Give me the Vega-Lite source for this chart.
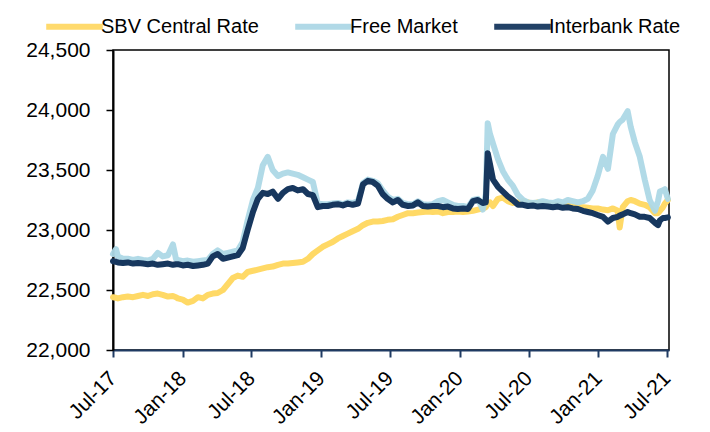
{
  "$schema": "https://vega.github.io/schema/vega-lite/v6.json",
  "width": 556,
  "height": 300,
  "autosize": {"type": "none"},
  "padding": {"left": 113, "top": 50, "right": 41, "bottom": 82},
  "background": "white",
  "config": {
    "view": {"stroke": "#000000", "strokeWidth": 1.5},
    "font": "Liberation Sans",
    "axis": {"labelFont": "Liberation Sans", "labelColor": "#000000", "grid": false, "title": null}
  },
  "data": {
    "values": [
      {"date": "2017-07-01", "sbv": 22440, "free": 22800, "interbank": 22740},
      {"date": "2017-07-09", "sbv": 22435, "free": 22840, "interbank": 22735},
      {"date": "2017-07-14", "sbv": 22430, "free": 22780, "interbank": 22730},
      {"date": "2017-07-27", "sbv": 22440, "free": 22760, "interbank": 22725},
      {"date": "2017-08-09", "sbv": 22445, "free": 22760, "interbank": 22730},
      {"date": "2017-08-23", "sbv": 22440, "free": 22750, "interbank": 22720},
      {"date": "2017-09-05", "sbv": 22450, "free": 22760, "interbank": 22725},
      {"date": "2017-09-18", "sbv": 22460, "free": 22750, "interbank": 22720},
      {"date": "2017-10-01", "sbv": 22450, "free": 22745, "interbank": 22715},
      {"date": "2017-10-14", "sbv": 22465, "free": 22760, "interbank": 22720},
      {"date": "2017-10-27", "sbv": 22470, "free": 22810, "interbank": 22710},
      {"date": "2017-11-09", "sbv": 22460, "free": 22780, "interbank": 22715},
      {"date": "2017-11-23", "sbv": 22445, "free": 22790, "interbank": 22720},
      {"date": "2017-12-06", "sbv": 22450, "free": 22880, "interbank": 22710},
      {"date": "2017-12-14", "sbv": 22440, "free": 22760, "interbank": 22715},
      {"date": "2017-12-19", "sbv": 22430, "free": 22750, "interbank": 22715},
      {"date": "2018-01-01", "sbv": 22420, "free": 22740, "interbank": 22705},
      {"date": "2018-01-14", "sbv": 22395, "free": 22745, "interbank": 22710},
      {"date": "2018-01-28", "sbv": 22410, "free": 22735, "interbank": 22700},
      {"date": "2018-02-10", "sbv": 22440, "free": 22740, "interbank": 22705},
      {"date": "2018-02-23", "sbv": 22430, "free": 22745, "interbank": 22710},
      {"date": "2018-03-08", "sbv": 22460, "free": 22750, "interbank": 22720},
      {"date": "2018-03-21", "sbv": 22470, "free": 22800, "interbank": 22780},
      {"date": "2018-04-03", "sbv": 22475, "free": 22830, "interbank": 22800},
      {"date": "2018-04-17", "sbv": 22500, "free": 22800, "interbank": 22760},
      {"date": "2018-04-30", "sbv": 22550, "free": 22810, "interbank": 22770},
      {"date": "2018-05-13", "sbv": 22600, "free": 22820, "interbank": 22780},
      {"date": "2018-05-26", "sbv": 22620, "free": 22830, "interbank": 22790},
      {"date": "2018-06-08", "sbv": 22610, "free": 22900, "interbank": 22850},
      {"date": "2018-06-21", "sbv": 22650, "free": 23080, "interbank": 23000},
      {"date": "2018-07-05", "sbv": 22660, "free": 23250, "interbank": 23150},
      {"date": "2018-07-18", "sbv": 22670, "free": 23350, "interbank": 23260},
      {"date": "2018-07-31", "sbv": 22680, "free": 23540, "interbank": 23310},
      {"date": "2018-08-13", "sbv": 22690, "free": 23610, "interbank": 23300},
      {"date": "2018-08-26", "sbv": 22695, "free": 23500, "interbank": 23320},
      {"date": "2018-09-09", "sbv": 22710, "free": 23450, "interbank": 23260},
      {"date": "2018-09-22", "sbv": 22720, "free": 23470, "interbank": 23310},
      {"date": "2018-10-05", "sbv": 22720, "free": 23480, "interbank": 23340},
      {"date": "2018-10-18", "sbv": 22725, "free": 23470, "interbank": 23350},
      {"date": "2018-10-31", "sbv": 22730, "free": 23460, "interbank": 23330},
      {"date": "2018-11-14", "sbv": 22735, "free": 23440, "interbank": 23340},
      {"date": "2018-11-27", "sbv": 22760, "free": 23420, "interbank": 23300},
      {"date": "2018-12-10", "sbv": 22800, "free": 23400, "interbank": 23290},
      {"date": "2018-12-23", "sbv": 22830, "free": 23220, "interbank": 23190},
      {"date": "2019-01-05", "sbv": 22860, "free": 23215, "interbank": 23200},
      {"date": "2019-01-18", "sbv": 22880, "free": 23215, "interbank": 23200},
      {"date": "2019-01-31", "sbv": 22900, "free": 23220, "interbank": 23210},
      {"date": "2019-02-14", "sbv": 22930, "free": 23225, "interbank": 23215},
      {"date": "2019-02-27", "sbv": 22950, "free": 23215, "interbank": 23205},
      {"date": "2019-03-12", "sbv": 22970, "free": 23230, "interbank": 23220},
      {"date": "2019-03-25", "sbv": 22990, "free": 23225, "interbank": 23210},
      {"date": "2019-04-08", "sbv": 23010, "free": 23240, "interbank": 23220},
      {"date": "2019-04-21", "sbv": 23040, "free": 23390, "interbank": 23380},
      {"date": "2019-05-04", "sbv": 23060, "free": 23420, "interbank": 23410},
      {"date": "2019-05-17", "sbv": 23070, "free": 23410, "interbank": 23400},
      {"date": "2019-05-30", "sbv": 23070, "free": 23390, "interbank": 23370},
      {"date": "2019-06-12", "sbv": 23075, "free": 23330, "interbank": 23300},
      {"date": "2019-06-25", "sbv": 23085, "free": 23280, "interbank": 23260},
      {"date": "2019-07-09", "sbv": 23090, "free": 23250, "interbank": 23230},
      {"date": "2019-07-22", "sbv": 23110, "free": 23260, "interbank": 23250},
      {"date": "2019-08-04", "sbv": 23125, "free": 23225, "interbank": 23210},
      {"date": "2019-08-18", "sbv": 23140, "free": 23215, "interbank": 23200},
      {"date": "2019-08-31", "sbv": 23140, "free": 23215, "interbank": 23205},
      {"date": "2019-09-13", "sbv": 23145, "free": 23240, "interbank": 23230},
      {"date": "2019-09-26", "sbv": 23150, "free": 23215, "interbank": 23200},
      {"date": "2019-10-09", "sbv": 23155, "free": 23210, "interbank": 23195},
      {"date": "2019-10-22", "sbv": 23150, "free": 23215, "interbank": 23200},
      {"date": "2019-11-05", "sbv": 23155, "free": 23240, "interbank": 23200},
      {"date": "2019-11-18", "sbv": 23140, "free": 23250, "interbank": 23190},
      {"date": "2019-12-01", "sbv": 23150, "free": 23230, "interbank": 23195},
      {"date": "2019-12-14", "sbv": 23150, "free": 23210, "interbank": 23180},
      {"date": "2019-12-27", "sbv": 23155, "free": 23200, "interbank": 23175},
      {"date": "2020-01-10", "sbv": 23150, "free": 23200, "interbank": 23180},
      {"date": "2020-01-23", "sbv": 23155, "free": 23190, "interbank": 23175},
      {"date": "2020-02-05", "sbv": 23160, "free": 23250, "interbank": 23240},
      {"date": "2020-02-18", "sbv": 23170, "free": 23260, "interbank": 23250},
      {"date": "2020-03-02", "sbv": 23180, "free": 23170, "interbank": 23225},
      {"date": "2020-03-10", "sbv": 23190, "free": 23300, "interbank": 23230},
      {"date": "2020-03-15", "sbv": 23220, "free": 23890, "interbank": 23640},
      {"date": "2020-03-21", "sbv": 23230, "free": 23800, "interbank": 23550},
      {"date": "2020-03-29", "sbv": 23200, "free": 23720, "interbank": 23420},
      {"date": "2020-04-11", "sbv": 23260, "free": 23590, "interbank": 23360},
      {"date": "2020-04-24", "sbv": 23270, "free": 23490, "interbank": 23320},
      {"date": "2020-05-07", "sbv": 23240, "free": 23420, "interbank": 23280},
      {"date": "2020-05-20", "sbv": 23225, "free": 23370, "interbank": 23250},
      {"date": "2020-06-03", "sbv": 23230, "free": 23290, "interbank": 23210},
      {"date": "2020-06-16", "sbv": 23240, "free": 23250, "interbank": 23210},
      {"date": "2020-06-29", "sbv": 23230, "free": 23230, "interbank": 23200},
      {"date": "2020-07-12", "sbv": 23220, "free": 23225, "interbank": 23205},
      {"date": "2020-07-25", "sbv": 23230, "free": 23230, "interbank": 23195},
      {"date": "2020-08-07", "sbv": 23220, "free": 23240, "interbank": 23200},
      {"date": "2020-08-21", "sbv": 23220, "free": 23230, "interbank": 23195},
      {"date": "2020-09-03", "sbv": 23210, "free": 23225, "interbank": 23190},
      {"date": "2020-09-16", "sbv": 23210, "free": 23240, "interbank": 23195},
      {"date": "2020-09-29", "sbv": 23200, "free": 23230, "interbank": 23185},
      {"date": "2020-10-12", "sbv": 23200, "free": 23250, "interbank": 23190},
      {"date": "2020-10-25", "sbv": 23195, "free": 23240, "interbank": 23180},
      {"date": "2020-11-08", "sbv": 23190, "free": 23230, "interbank": 23175},
      {"date": "2020-11-21", "sbv": 23190, "free": 23240, "interbank": 23160},
      {"date": "2020-12-04", "sbv": 23185, "free": 23260, "interbank": 23150},
      {"date": "2020-12-17", "sbv": 23180, "free": 23330, "interbank": 23140},
      {"date": "2020-12-30", "sbv": 23180, "free": 23450, "interbank": 23125},
      {"date": "2021-01-13", "sbv": 23170, "free": 23610, "interbank": 23110},
      {"date": "2021-01-26", "sbv": 23165, "free": 23510, "interbank": 23070},
      {"date": "2021-02-08", "sbv": 23180, "free": 23800, "interbank": 23100},
      {"date": "2021-02-21", "sbv": 23160, "free": 23880, "interbank": 23110},
      {"date": "2021-02-26", "sbv": 23020, "free": 23900, "interbank": 23120},
      {"date": "2021-03-06", "sbv": 23190, "free": 23920, "interbank": 23130},
      {"date": "2021-03-19", "sbv": 23240, "free": 23990, "interbank": 23150},
      {"date": "2021-03-27", "sbv": 23250, "free": 23860, "interbank": 23140},
      {"date": "2021-04-07", "sbv": 23240, "free": 23730, "interbank": 23130},
      {"date": "2021-04-20", "sbv": 23220, "free": 23610, "interbank": 23110},
      {"date": "2021-05-03", "sbv": 23210, "free": 23420, "interbank": 23110},
      {"date": "2021-05-16", "sbv": 23190, "free": 23250, "interbank": 23100},
      {"date": "2021-05-30", "sbv": 23140, "free": 23160, "interbank": 23060},
      {"date": "2021-06-07", "sbv": 23140, "free": 23240, "interbank": 23040},
      {"date": "2021-06-12", "sbv": 23160, "free": 23320, "interbank": 23080},
      {"date": "2021-06-20", "sbv": 23190, "free": 23330, "interbank": 23100},
      {"date": "2021-06-25", "sbv": 23220, "free": 23340, "interbank": 23100},
      {"date": "2021-07-03", "sbv": 23250, "free": 23260, "interbank": 23105}
    ]
  },
  "transform": [
    {"fold": ["sbv", "free", "interbank"], "as": ["key", "rate"]}
  ],
  "encoding": {
    "x": {
      "field": "date",
      "type": "temporal",
      "scale": {
        "type": "utc",
        "domain": [
          {"year": 2017, "month": 7, "date": 1, "utc": true},
          {"year": 2021, "month": 7, "date": 6, "utc": true}
        ]
      },
      "axis": {
        "values": [
          {"year": 2017, "month": 7, "date": 1, "utc": true},
          {"year": 2018, "month": 1, "date": 1, "utc": true},
          {"year": 2018, "month": 7, "date": 1, "utc": true},
          {"year": 2019, "month": 1, "date": 1, "utc": true},
          {"year": 2019, "month": 7, "date": 1, "utc": true},
          {"year": 2020, "month": 1, "date": 1, "utc": true},
          {"year": 2020, "month": 7, "date": 1, "utc": true},
          {"year": 2021, "month": 1, "date": 1, "utc": true},
          {"year": 2021, "month": 7, "date": 1, "utc": true}
        ],
        "labelExpr": "utcFormat(datum.value, '%b-%y')",
        "labelAngle": -45,
        "labelAlign": "right",
        "labelBaseline": "middle",
        "labelFontSize": 21,
        "labelPadding": 18,
        "tickSize": 7,
        "tickWidth": 2,
        "tickColor": "#1F3B63",
        "domainColor": "#1F3B63",
        "domainWidth": 2,
        "labelOverlap": false,
        "labelFlush": false
      }
    },
    "y": {
      "field": "rate",
      "type": "quantitative",
      "scale": {"domain": [22000, 24500], "nice": false, "zero": false},
      "axis": {
        "values": [22000, 22500, 23000, 23500, 24000, 24500],
        "format": ",.0f",
        "labelFontSize": 21,
        "labelPadding": 16,
        "tickSize": 7,
        "tickWidth": 1.5,
        "tickColor": "#000000",
        "domainColor": "#000000",
        "domainWidth": 2
      }
    },
    "color": {
      "field": "key",
      "type": "nominal",
      "scale": {
        "domain": ["sbv", "free", "interbank"],
        "range": ["#FFD966", "#ADD8E6", "#17375E"]
      },
      "legend": {
        "orient": "none",
        "legendX": -70,
        "legendY": -55,
        "direction": "horizontal",
        "title": null,
        "symbolType": "stroke",
        "symbolSize": 3200,
        "symbolStrokeWidth": 6,
        "labelFontSize": 20,
        "labelFont": "Liberation Sans",
        "labelColor": "#000000",
        "labelOffset": -5,
        "columnPadding": 24,
        "padding": 0,
        "labelExpr": "{'sbv': 'SBV Central Rate', 'free': 'Free Market', 'interbank': 'Interbank Rate'}[datum.label]"
      }
    }
  },
  "layer": [
    {
      "transform": [{"filter": "datum.key === 'sbv'"}],
      "mark": {"type": "line", "strokeWidth": 6, "strokeJoin": "round", "strokeCap": "round"}
    },
    {
      "transform": [{"filter": "datum.key === 'free'"}],
      "mark": {"type": "line", "strokeWidth": 6, "strokeJoin": "round", "strokeCap": "round", "opacity": 0.95}
    },
    {
      "transform": [{"filter": "datum.key === 'interbank'"}],
      "mark": {"type": "line", "strokeWidth": 6, "strokeJoin": "round", "strokeCap": "round"}
    }
  ]
}
